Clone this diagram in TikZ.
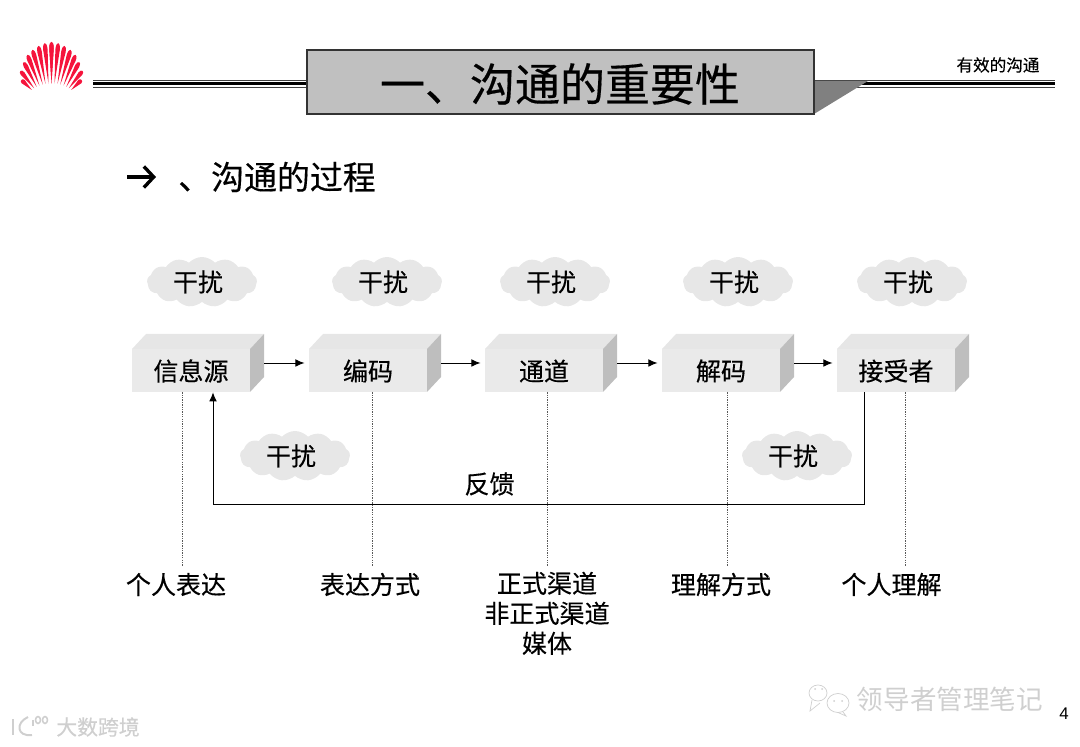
\documentclass[tikz,border=0pt]{standalone}
\usepackage{fontspec}
\setmainfont{Noto Sans CJK SC}[FakeBold=0.35]
\newfontfamily\markfont{Noto Sans CJK SC}
\newfontfamily\numfont{Liberation Sans}
\usetikzlibrary{arrows.meta,calc,shapes.symbols}
\definecolor{titlegray}{HTML}{C0C0C0}
\definecolor{shadegray}{HTML}{808080}
\definecolor{frontgray}{HTML}{EAEAEA}
\definecolor{topgray}{HTML}{E6E6E6}
\definecolor{sidegray}{HTML}{BEBEBE}
\definecolor{cloudgray}{HTML}{E7E7E7}
\definecolor{logored}{HTML}{F5143C}
\definecolor{markgray}{HTML}{CFCFCF}
\tikzset{
    flowtxt/.style={inner sep=0pt,font=\fontsize{17.8pt}{21.3pt}\selectfont,align=center},
    noisecloud/.style={cloud,cloud puffs=13,cloud puff arc=95,cloud ignores aspect,fill=cloudgray,inner sep=0pt,
        minimum width=2.75cm,minimum height=1.25cm},
    flowarrow/.style={-{Latex[length=6.5pt,width=5.5pt]},line width=.65pt},
    dotline/.style={dash pattern=on .9pt off .8pt,line width=.6pt,black!65},
    markline/.style={line width=.5pt,markgray}
}

\begin{document}
\begin{tikzpicture}[x=0.025cm,y=-0.025cm]
    \useasboundingbox (0,0) rectangle (1080,747);

    % Logo, fan of blades
    \foreach \dt/\yt/\db/\yb in {0/42/0/83.3,6.7/43.3/3/83.7,13/46/6/84,19/50/8.7/84.7,24/55/12/85.7,
        27.7/62.3/14.7/87,31/71/17.3/88.3,30/80/19.7/90}{
        \foreach \s in {-1,1}{
            \coordinate (blb) at (51.5+\s*\db,\yb);
            \coordinate (blt) at (51.5+\s*\dt,\yt);
            \coordinate (blm) at ($(blb)!0.84!(blt)$);
            \coordinate (blc) at ($(blb)!1.06!(blt)$);
            \fill[logored] (blb) -- ($(blm)!1.6pt!90:(blt)$)
                .. controls ($(blc)!1.6pt!-90:(blb)$) and ($(blc)!1.6pt!90:(blb)$) .. ($(blm)!1.6pt!-90:(blt)$) -- cycle;
        }
    }

    % Title bar with its triple rules
    \foreach \xa/\xb in {93/307,814/1055}{
        \draw[line width=.5pt,black!75] (\xa,80) -- (\xb,80);
        \draw[line width=1.5pt] (\xa,83.5) -- (\xb,83.5);
        \draw[line width=.5pt,black!75] (\xa,87) -- (\xb,87);
    }
    \fill[shadegray] (814,81) -- (868,81) -- (814,114) -- cycle;
    \draw[line width=.9pt,fill=titlegray,draw=black!80] (307,50) rectangle (814,114);
    \node[inner sep=0pt,font=\fontsize{32pt}{36pt}\selectfont] (title) at (560,84) {一、沟通的重要性};
    \node[inner sep=0pt,font=\fontsize{11.8pt}{14pt}\selectfont] (section) at (998,65) {有效的沟通};

    % Subtitle
    \coordinate (bulleta) at (127,177);
    \coordinate (bulletb) at (156,177);
    \draw[-{Straight Barb[length=7pt,width=15pt,line width=2.4pt]},line width=2.4pt] (bulleta) -- (bulletb);
    \node[inner sep=0pt,anchor=west,font=\fontsize{23.4pt}{28pt}\selectfont] (sub) at (178,177) {、沟通的过程};

    % Blocks of the process
    \foreach \name/\bx/\tx/\txt in {info/132/191/信息源,code/309/368/编码,chan/485/544/通道,
        deco/662/721/解码,recv/837/896/接受者}{
        \fill[topgray] (\bx,349) -- (\bx+14,334) -- (\bx+132,334) -- (\bx+118,349) -- cycle;
        \fill[sidegray] (\bx+118,349) -- (\bx+132,334) -- (\bx+132,377) -- (\bx+118,392) -- cycle;
        \fill[frontgray] (\bx,349) rectangle (\bx+118,392);
        \node[inner sep=0pt,minimum width=3.3cm,minimum height=1.45cm] (\name) at (\bx+66,363) {};
        \node[flowtxt] (\name txt) at (\tx,371) {\txt};
    }
    \draw[flowarrow,shorten >=3pt] (info) -- (code);
    \draw[flowarrow,shorten >=3pt] (code) -- (chan);
    \draw[flowarrow,shorten >=3pt] (chan) -- (deco);
    \draw[flowarrow,shorten >=3pt] (deco) -- (recv);

    % Noise clouds
    \foreach \name/\cx/\cy in {na/202/282,nb/387/282,nc/555/282,nd/738/282,ne/912/282,nf/295/456,ng/797/456}{
        \node[noisecloud] (\name) at (\cx,\cy) {};
        \node[flowtxt] (\name txt) at (\cx-4,\cy) {干扰};
    }

    % Feedback loop
    \coordinate (fbr) at (864,504);
    \coordinate (fbl) at (213,504);
    \draw[flowarrow] (recv.south -| fbr) -- (fbr) -- (fbl) -- (info.south -| fbl);
    \node[flowtxt] (fbtxt) at (489.5,484) {反馈};

    % Labels below with dotted leaders
    \node[flowtxt] (la) at (176,584.5) {个人表达};
    \node[flowtxt] (lb) at (370,584.5) {表达方式};
    \node[flowtxt,anchor=north] (lc) at (547,571.5) {正式渠道\\非正式渠道\\媒体};
    \node[flowtxt] (ld) at (721,584.5) {理解方式};
    \node[flowtxt] (le) at (891.5,584.5) {个人理解};
    \foreach \name/\dx in {info/182,code/372,chan/547,deco/727,recv/905}{
        \coordinate (dtop) at (\dx,392);
        \coordinate (dend) at (\dx,566);
        \draw[dotline] (\name.south -| dtop) -- (dend);
    }

    % Page number and watermarks
    \node[inner sep=0pt,font=\numfont\fontsize{12pt}{14pt}\selectfont] (page) at (1064,714) {4};
    \node[inner sep=0pt,text=markgray,font=\markfont\fontsize{18.9pt}{22pt}\selectfont] (markb) at (950,699) {领导者管理笔记};
    \node[inner sep=0pt,text=markgray,font=\fontsize{14.8pt}{18pt}\selectfont] (marka) at (98,727) {大数跨境};

    % Speech bubbles of the right mark
    \draw[markline] (818,693) ellipse (9 and 8);
    \draw[markline,fill=white] (838,703) ellipse (11 and 9.5);
    \draw[markline] (812,700) -- (810,711) -- (820,703);
    \draw[markline] (843,712) -- (846,716) -- (838,712.5);
    \fill[markgray] (815,689) circle (1) (822,689) circle (1) (834,701) circle (1) (842,701) circle (1);

    % Small sign of the left mark
    \draw[markline,line width=1.4pt] (13,719) -- (13,735);
    \draw[markline,line width=1.4pt] (28,717) .. controls (15,723) and (17,737) .. (32,735);
    \draw[markline,line width=1.1pt] (33,720) -- (33,726);
    \draw[markline,line width=1.1pt] (38,720) ellipse (2.5 and 3.5);
    \draw[markline,line width=1.1pt] (45,720) ellipse (2.5 and 3.5);
\end{tikzpicture}
\end{document}
